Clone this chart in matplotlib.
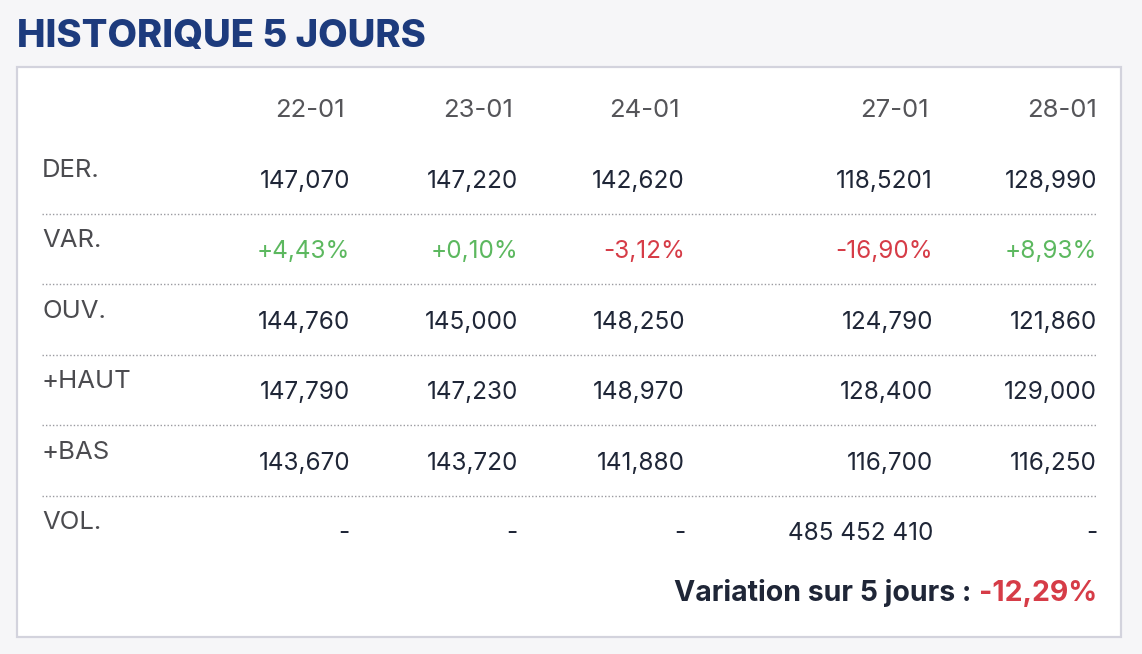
"""Historique 5 jours - price table recreated with matplotlib."""
import matplotlib
matplotlib.use('Agg')
import matplotlib.pyplot as plt
from matplotlib.patches import Rectangle

# data
DATES = ['22-01', '23-01', '24-01', '27-01', '28-01']
ROW_LABELS = ['DER.', 'VAR.', 'OUV.', '+HAUT', '+BAS', 'VOL.']
DER = ['147,070', '147,220', '142,620', '118,5201', '128,990']
VAR = ['+4,43%', '+0,10%', '-3,12%', '-16,90%', '+8,93%']
OUV = ['144,760', '145,000', '148,250', '124,790', '121,860']
HAUT = ['147,790', '147,230', '148,970', '128,400', '129,000']
BAS = ['143,670', '143,720', '141,880', '116,700', '116,250']
VOL = ['-', '-', '-', '485 452 410', '-']
VARIATION_5J = '-12,29%'

# layout (pixels)
W, H = 1142, 654
COL_X = [350, 518, 685, 933, 1097]
HEAD_X = [345, 513, 680, 929, 1097]
LABEL_X = 42
ROW_STEP = 70.4
LABEL_Y0, VALUE_Y0 = 177, 188
SEP_Y0 = 214

NAVY = '#1d3b7d'
TEXT = '#1f2637'
GREY = '#4b4b4f'
GREEN = '#5cb85f'
RED = '#d63c47'
FONT = 'Inter'

fig = plt.figure(figsize=(W / 100, H / 100), dpi=100, facecolor='#f6f6f8')
ax = fig.add_axes([0, 0, 1, 1])
ax.set_xlim(0, W); ax.set_ylim(H, 0); ax.axis('off')
ax.set_facecolor('#f6f6f8')

ax.add_patch(Rectangle((17, 67), 1104, 570, facecolor='white', edgecolor='#d3d3dd', lw=1.6))
ax.text(17, 47, 'HISTORIQUE 5 JOURS', family=FONT, weight='heavy', fontsize=27.5,
        color=NAVY, ha='left', va='baseline')

for x, d in zip(HEAD_X, DATES):
    ax.text(x, 117, d, family=FONT, fontsize=18.5, color='#555559', ha='right', va='baseline')

rows = [DER, VAR, OUV, HAUT, BAS, VOL]
for i, (lab, vals) in enumerate(zip(ROW_LABELS, rows)):
    ly = LABEL_Y0 + i * ROW_STEP
    vy = VALUE_Y0 + i * ROW_STEP
    ax.text(LABEL_X, ly, lab, family=FONT, fontsize=18.5, color=GREY, ha='left', va='baseline')
    for x, v in zip(COL_X, vals):
        c = TEXT
        if lab == 'VAR.':
            c = GREEN if v.startswith('+') else RED
        ax.text(x, vy, v, family=FONT, fontsize=17.5, color=c, ha='right', va='baseline')
    if i < len(rows) - 1:
        sy = SEP_Y0 + i * ROW_STEP
        ax.plot([LABEL_X, 1097], [sy, sy], color='#9a9aa0', lw=1.0, ls=(0, (1, 1.5)))

t = ax.text(1097, 601, VARIATION_5J, family=FONT, weight='bold', fontsize=20.5,
            color=RED, ha='right', va='baseline')
fig.canvas.draw()
bb = t.get_window_extent().transformed(ax.transData.inverted())
ax.text(bb.x0 - 7, 601, 'Variation sur 5 jours :', family=FONT, weight='bold', fontsize=20.5,
        color=TEXT, ha='right', va='baseline')

fig.savefig('out.png', dpi=100, facecolor=fig.get_facecolor())
